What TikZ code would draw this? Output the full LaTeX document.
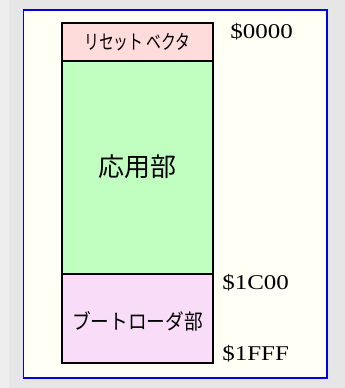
\documentclass[tikz,border=0pt]{standalone}
\usepackage{fontspec}
\setmainfont{Liberation Serif}
\newfontfamily\jp{Noto Sans CJK JP}
\definecolor{bggray}{HTML}{E6E6E6}
\definecolor{bgleft}{HTML}{EEEEEE}
\definecolor{panel}{HTML}{FFFFF6}
\definecolor{panelblue}{HTML}{0000E0}
\definecolor{resetc}{HTML}{FFDCDC}
\definecolor{appc}{HTML}{C0FFC0}
\definecolor{bootc}{HTML}{F8DCF8}
\tikzset{
  memblk/.style={draw=black, line width=2.5pt},
  addr/.style={anchor=west, inner sep=0pt, font=\fontsize{20}{22}\selectfont, transform shape, xscale=1.25, yscale=1.05},
  jplabel/.style={inner sep=0pt, transform shape, font=\jp\fontsize{#1}{#1}\selectfont},
}
\begin{document}
\begin{tikzpicture}[x=1pt,y=-1pt]
\useasboundingbox (0,0) rectangle (345,388);
\fill[bggray] (0,0) rectangle (345,388);
\fill[bgleft] (0,0) rectangle (9,388);
\draw[panelblue, line width=1.2pt, fill=panel] (23.5,10) rectangle (327,378);
% memory map blocks
\draw[memblk, fill=resetc] (62,23) rectangle (213,61);
\draw[memblk, fill=appc] (62,61) rectangle (213,274);
\draw[memblk, fill=bootc] (62,274) rectangle (213,363);
\node[jplabel=20, xscale=0.74] (reset) at (137.5,42) {リセット ベクタ};
\node[jplabel=26] (app) at (137.5,167) {応用部};
\node[jplabel=21, xscale=0.89] (boot) at (137.5,321) {ブートローダ部};
\node[addr] (a0) at (230,32) {\$0000};
\node[addr] (a1) at (222,283) {\$1C00};
\node[addr] (a2) at (222,354) {\$1FFF};
\end{tikzpicture}
\end{document}
